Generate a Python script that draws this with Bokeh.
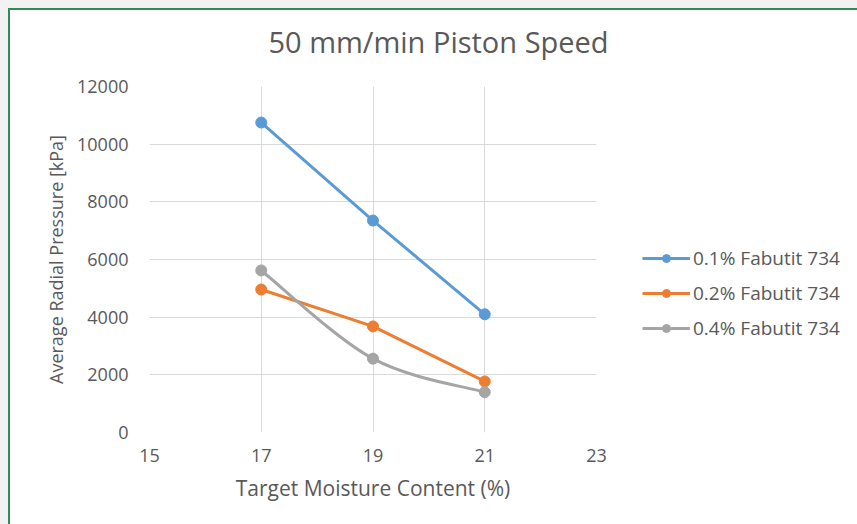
from bokeh.plotting import figure
from bokeh.models import Legend, LegendItem, FixedTicker, Range1d, Spacer, Label
from bokeh.layouts import row, column
from bokeh.embed import file_html
from bokeh.resources import INLINE

moisture = [17, 19, 21]
fab_01 = [10750, 7350, 4100]
fab_02 = [4960, 3680, 1770]
fab_04 = [5620, 2560, 1400]
series_names = ["0.1% Fabutit 734", "0.2% Fabutit 734", "0.4% Fabutit 734"]
x_ticks = [15, 17, 19, 21, 23]
y_ticks = [0, 2000, 4000, 6000, 8000, 10000, 12000]
chart_title = "50 mm/min Piston Speed"

BLUE = "#5b9bd5"
ORANGE = "#ed7d31"
GRAY = "#a5a5a5"
TXT = "#595959"
FONT = "Open Sans"
EDGE = "2px solid #2e8b57"
LW = 3
MS = 11


def bare(fig):
    fig.axis.visible = False
    fig.grid.visible = False
    fig.outline_line_color = None
    fig.background_fill_color = "white"
    fig.border_fill_color = "white"
    fig.min_border = 0


def smooth_segments(xs, ys):
    # Catmull-Rom style Bezier control points through the data points
    n = len(xs)
    out = {k: [] for k in ("x0", "y0", "x1", "y1", "cx0", "cy0", "cx1", "cy1")}
    for i in range(n - 1):
        a, b, c, d = max(i - 1, 0), i, i + 1, min(i + 2, n - 1)
        out["x0"].append(xs[b]); out["y0"].append(ys[b])
        out["x1"].append(xs[c]); out["y1"].append(ys[c])
        out["cx0"].append(xs[b] + (xs[c] - xs[a]) / 6.0)
        out["cy0"].append(ys[b] + (ys[c] - ys[a]) / 6.0)
        out["cx1"].append(xs[c] - (xs[d] - xs[b]) / 6.0)
        out["cy1"].append(ys[c] - (ys[d] - ys[b]) / 6.0)
    return out


def draw_series(fig):
    r1l = fig.line(moisture, fab_01, line_color=BLUE, line_width=LW)
    r1s = fig.scatter(moisture, fab_01, size=MS, fill_color=BLUE, line_color=BLUE)
    r2l = fig.line(moisture, fab_02, line_color=ORANGE, line_width=LW)
    r2s = fig.scatter(moisture, fab_02, size=MS, fill_color=ORANGE, line_color=ORANGE)
    r3l = fig.bezier(**smooth_segments(moisture, fab_04), line_color=GRAY, line_width=LW)
    r3s = fig.scatter(moisture, fab_04, size=MS, fill_color=GRAY, line_color=GRAY)
    return [(r1l, r1s), (r2l, r2s), (r3l, r3s)]


# ---- title strip ----
pt = figure(width=849, height=66, output_backend="svg", toolbar_location=None,
            x_range=Range1d(0, 847), y_range=Range1d(0, 64))
bare(pt)
pt.styles = {"border-left": EDGE, "border-top": EDGE}
pt.add_layout(Label(x=427, y=34, text=chart_title, text_align="center",
                    text_baseline="middle", text_font=FONT, text_font_size="29px",
                    text_color=TXT))

# ---- main chart ----
p = figure(width=610, height=450, output_backend="svg", toolbar_location=None,
           x_range=Range1d(15, 23), y_range=Range1d(0, 12000),
           min_border_left=139, min_border_right=24, min_border_top=12,
           min_border_bottom=92)
p.styles = {"border-left": EDGE}
p.outline_line_color = None
p.background_fill_color = "white"
p.border_fill_color = "white"

for ax in (p.xaxis, p.yaxis):
    ax.axis_line_color = None
    ax.major_tick_line_color = None
    ax.minor_tick_line_color = None
    ax.major_tick_out = 0
    ax.major_tick_in = 0
    ax.minor_tick_out = 0
    ax.minor_tick_in = 0
    ax.major_label_text_color = TXT
    ax.major_label_text_font = FONT
    ax.major_label_text_font_size = "18px"
    ax.axis_label_text_color = TXT
    ax.axis_label_text_font = FONT
    ax.axis_label_text_font_style = "normal"

p.xaxis.axis_label_text_font_size = "21px"
p.yaxis.axis_label_text_font_size = "18px"
p.xaxis.ticker = FixedTicker(ticks=x_ticks)
p.yaxis.ticker = FixedTicker(ticks=y_ticks)
p.xaxis.axis_label = "Target Moisture Content (%)"
p.yaxis.axis_label = "Average Radial Pressure [kPa]"
p.xaxis.major_label_standoff = 16
p.yaxis.major_label_standoff = 21
p.xaxis.axis_label_standoff = 9
p.yaxis.axis_label_standoff = 6

p.xgrid.ticker = FixedTicker(ticks=x_ticks)
p.ygrid.ticker = FixedTicker(ticks=y_ticks)
p.grid.grid_line_color = "#d9d9d9"
p.grid.grid_line_width = 1

draw_series(p)

# ---- legend panel (its renderers lie outside its own visible range) ----
pl = figure(width=239, height=450, output_backend="svg", toolbar_location=None,
            x_range=Range1d(0, 1), y_range=Range1d(-1, 0))
bare(pl)
leg_renderers = draw_series(pl)
legend = Legend(items=[LegendItem(label=name, renderers=list(rs))
                       for name, rs in zip(series_names, leg_renderers)],
                location=(24, 91))
legend.border_line_color = None
legend.background_fill_alpha = 0
legend.glyph_width = 48
legend.glyph_height = 20
legend.label_height = 26
legend.spacing = 9
legend.label_standoff = 3
legend.padding = 0
legend.margin = 0
legend.label_text_font = FONT
legend.label_text_font_size = "19px"
legend.label_text_color = TXT
pl.add_layout(legend, "center")

gray_css = {"background-color": "#f2f2f2"}
left_strip = Spacer(width=8, height=524, styles=gray_css)
top_strip = Spacer(width=849, height=8, styles=gray_css)
layout = row(left_strip,
             column(top_strip, pt, row(p, pl, spacing=0), spacing=0),
             spacing=0)

open("out.html", "w").write(file_html(layout, INLINE))
